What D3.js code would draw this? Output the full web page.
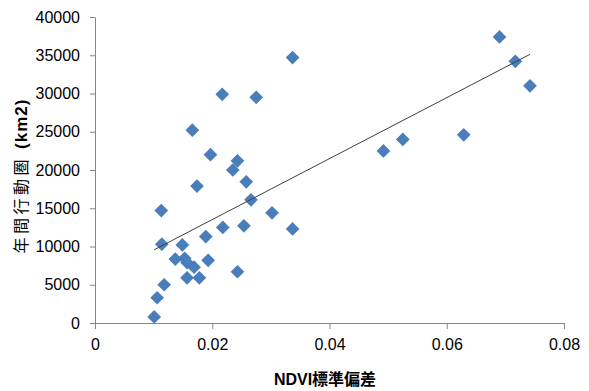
<!DOCTYPE html>
<html>
<head>
<meta charset="utf-8">
<script src="https://cdn.jsdelivr.net/npm/d3@7"></script>
<style>
  body { margin: 0; background: #fff; }
  svg { display: block; }
  .axis text { font-family: "Liberation Sans", Arial, sans-serif; font-size: 16px; fill: #000; }
  .axis path, .axis line { stroke: #868686; }
</style>
</head>
<body>
<div id="chart"></div>
<script>
// NDVI標準偏差
const ndviSd = [0.0101, 0.0106, 0.0118, 0.0113, 0.0114, 0.0137, 0.0149, 0.0153, 0.0157, 0.0157,
  0.0169, 0.0178, 0.0189, 0.0193, 0.0174, 0.0166, 0.0197, 0.0217, 0.0218, 0.0235,
  0.0243, 0.0243, 0.0254, 0.0258, 0.0266, 0.0275, 0.0302, 0.0337, 0.0337, 0.0492,
  0.0525, 0.0629, 0.0690, 0.0717, 0.0742];
// 年間行動圏 (km2)
const homeRange = [800, 3300, 5000, 14700, 10300, 8350, 10200, 8450, 7900, 5900,
  7300, 5900, 11300, 8200, 17900, 25200, 22000, 29900, 12500, 20000,
  21200, 6700, 12700, 18450, 16100, 29500, 14400, 12300, 34700, 22500,
  24000, 24600, 37400, 34200, 31000];
const xTicks = [0, 0.02, 0.04, 0.06, 0.08];
const yTicks = [0, 5000, 10000, 15000, 20000, 25000, 30000, 35000, 40000];

const width = 589;
const height = 391;
const margin = { top: 17, right: 25, bottom: 68, left: 95 };

const svg = d3.select('#chart').append('svg')
  .attr('width', width)
  .attr('height', height);

const xScale = d3.scaleLinear()
  .domain([0, 0.08])
  .range([margin.left, width - margin.right]);
const yScale = d3.scaleLinear()
  .domain([0, 40000])
  .range([height - margin.bottom, margin.top]);

const points = ndviSd.map(function (v, i) { return { x: v, y: homeRange[i] }; });

// 軸
svg.append('g')
  .attr('class', 'axis')
  .attr('transform', 'translate(0,' + yScale(0) + ')')
  .call(d3.axisBottom(xScale).tickValues(xTicks).tickSize(6).tickSizeOuter(0)
    .tickPadding(10).tickFormat(function (d) { return d === 0 ? '0' : d3.format('.2f')(d); }));

svg.append('g')
  .attr('class', 'axis')
  .attr('transform', 'translate(' + xScale(0) + ',0)')
  .call(d3.axisLeft(yScale).tickValues(yTicks).tickSize(5).tickSizeOuter(0)
    .tickPadding(10).tickFormat(d3.format('d')));

// 線形近似 (最小二乗)
const mx = d3.mean(points, function (d) { return d.x; });
const my = d3.mean(points, function (d) { return d.y; });
const slope = d3.sum(points, function (d) { return (d.x - mx) * (d.y - my); }) /
  d3.sum(points, function (d) { return (d.x - mx) * (d.x - mx); });
const intercept = my - slope * mx;
const xExt = d3.extent(points, function (d) { return d.x; });

// 点
const diamond = d3.symbol().type(d3.symbolDiamond2).size(120);
svg.append('g')
  .selectAll('path')
  .data(points)
  .join('path')
  .attr('d', diamond)
  .attr('transform', function (d) { return 'translate(' + xScale(d.x) + ',' + yScale(d.y) + ')'; })
  .attr('fill', '#4a7ebb');

svg.append('line')
  .attr('x1', xScale(xExt[0]))
  .attr('y1', yScale(intercept + slope * xExt[0]))
  .attr('x2', xScale(xExt[1]))
  .attr('y2', yScale(intercept + slope * xExt[1]))
  .attr('stroke', '#404040')
  .attr('stroke-width', 1);

// 軸ラベル
const xLabel = svg.append('text')
  .attr('x', 325)
  .attr('y', 385)
  .attr('text-anchor', 'middle')
  .style('font-size', '16px')
  .style('font-weight', 'bold');
xLabel.append('tspan').style('font-family', '"Liberation Sans", Arial, sans-serif').text('NDVI');
xLabel.append('tspan').style('font-family', '"Noto Sans CJK JP", sans-serif').text('標準偏差');

const yLabel = svg.append('text')
  .attr('transform', 'translate(27,' + 176 + ') rotate(-90)')
  .attr('text-anchor', 'middle')
  .style('font-size', '16px');
yLabel.append('tspan').style('font-family', '"Noto Sans CJK JP", sans-serif')
  .style('letter-spacing', '3.5px').text('年間行動圏 ');
yLabel.append('tspan').style('font-family', '"Liberation Sans", Arial, sans-serif')
  .style('font-size', '17px').style('letter-spacing', '1px')
  .style('font-weight', 'bold').text('(km2)');
</script>
</body>
</html>
